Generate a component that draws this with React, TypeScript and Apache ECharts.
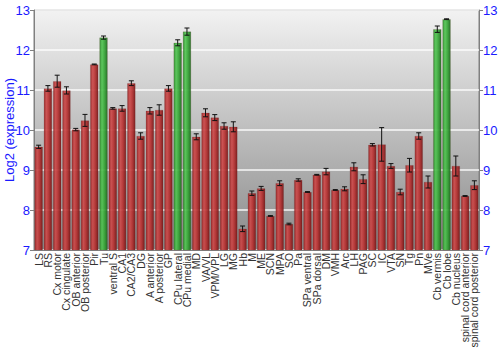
import React, { useEffect, useRef } from "react";
import * as echarts from "echarts";

const categories: string[] = [
  "LS", "RS", "Cx motor", "Cx cingulate", "OB anterior", "OB posterior", "Pir", "Tu",
  "ventral S", "CA1", "CA2/CA3", "DG", "A anterior", "A posterior", "GP", "CPu lateral",
  "CPu medial", "MD", "VA/VL", "VPM/VPL", "LG", "MG", "Hb", "M", "ME", "SCN", "MPA", "SO",
  "Pa", "SPa ventral", "SPa dorsal", "DM", "VMH", "Arc", "LH", "PAG", "SC", "IC", "VTA",
  "SN", "Tg", "Pn", "MVe", "Cb vermis", "Cb lobe", "Cb nucleus", "spinal cord anterior",
  "spinal cord posterior",
];

const values: number[] = [
  9.58, 11.04, 11.22, 10.99, 10.01, 10.24, 11.64, 12.31,
  10.54, 10.54, 11.17, 9.85, 10.48, 10.5, 11.04, 12.18,
  12.46, 9.83, 10.43, 10.31, 10.1, 10.08, 7.53, 8.42, 8.54, 7.85, 8.67, 7.65,
  8.75, 8.45, 8.88, 8.96, 8.5, 8.53, 9.08, 8.77, 9.63, 9.64, 9.1,
  8.45, 9.12, 9.85, 8.7, 12.52, 12.77, 9.1, 8.35,
  8.62,
];

const errors: number[] = [
  0.04, 0.07, 0.15, 0.09, 0.03, 0.15, 0.01, 0.04,
  0.02, 0.07, 0.06, 0.08, 0.08, 0.13, 0.07, 0.075,
  0.09, 0.075, 0.1, 0.075, 0.08, 0.125, 0.07, 0.055, 0.05, 0.01, 0.06, 0.02,
  0.03, 0.01, 0.01, 0.08, 0.01, 0.05, 0.1, 0.11, 0.03, 0.42, 0.06,
  0.07, 0.17, 0.08, 0.15, 0.08, 0.01, 0.25, 0.01,
  0.11,
];

const highlighted: string[] = ["Tu", "CPu lateral", "CPu medial", "Cb vermis", "Cb lobe"];

const yTicks = { min: 7, max: 13, interval: 1 };

const redGrad = () =>
  new echarts.graphic.LinearGradient(0, 0, 1, 0, [
    { offset: 0, color: "#9a2424" },
    { offset: 0.3, color: "#cc4a4a" },
    { offset: 0.6, color: "#b83232" },
    { offset: 1, color: "#7a1616" },
  ]);
const greenGrad = () =>
  new echarts.graphic.LinearGradient(0, 0, 1, 0, [
    { offset: 0, color: "#2a8e2a" },
    { offset: 0.3, color: "#52c452" },
    { offset: 0.6, color: "#38a838" },
    { offset: 1, color: "#1c6c1c" },
  ]);

export default function App() {
  const ref = useRef<HTMLDivElement>(null);
  useEffect(() => {
    if (!ref.current) return;
    const chart = echarts.init(ref.current, undefined, { renderer: "svg" });
    const blue = "#1a1aff";
    const font = "Liberation Sans, Arial, sans-serif";
    const barData = values.map((v, i) => ({
      value: v,
      itemStyle: {
        color: highlighted.includes(categories[i]) ? greenGrad() : redGrad(),
        opacity: 0.92,
        borderColor: "rgba(90,20,20,0.35)",
        borderWidth: 0.5,
      },
    }));
    const errData = values.map((v, i) => [i, v - errors[i], v + errors[i]]);
    const yAxisBase = {
      type: "value" as const,
      min: yTicks.min,
      max: yTicks.max,
      interval: yTicks.interval,
      axisLine: { show: true, lineStyle: { color: "#808080" } },
      axisTick: { show: true, length: 4, lineStyle: { color: "#808080" } },
      axisLabel: { color: blue, fontSize: 13, fontFamily: font, margin: 4 },
    };
    chart.setOption({
      animation: false,
      grid: {
        left: 34,
        right: 21,
        top: 10,
        bottom: 100,
        containLabel: false,
        outerBoundsMode: "none",
        show: true,
        borderColor: "#808080",
        borderWidth: 1,
        backgroundColor: new echarts.graphic.LinearGradient(0, 0, 0, 1, [
          { offset: 0, color: "#f2f2f2" },
          { offset: 1, color: "#8a8a8a" },
        ]),
      },
      xAxis: {
        type: "category",
        data: categories,
        axisLine: { show: true, lineStyle: { color: "#808080" } },
        axisTick: { show: false },
        axisLabel: {
          interval: 0,
          rotate: 90,
          fontSize: 10.5,
          color: "#333",
          fontFamily: font,
          margin: 3,
        },
      },
      yAxis: [
        {
          ...yAxisBase,
          position: "left",
          name: "Log2 (expression)",
          nameLocation: "middle",
          nameGap: 18,
          nameMoveOverlap: false,
          nameTextStyle: { color: blue, fontSize: 13, fontFamily: font },
          splitLine: { show: true, lineStyle: { color: "#ffffff", width: 1.5, opacity: 0.9 } },
        },
        {
          ...yAxisBase,
          position: "right",
          splitLine: { show: false },
        },
      ],
      series: [
        {
          type: "bar",
          data: barData,
          barCategoryGap: "12%",
          yAxisIndex: 0,
        },
        {
          type: "custom",
          yAxisIndex: 0,
          data: errData,
          z: 5,
          renderItem: (params: any, api: any) => {
            const i = api.value(0);
            const lo = api.coord([i, api.value(1)]);
            const hi = api.coord([i, api.value(2)]);
            const x = lo[0];
            const w = 2.5;
            const style = { stroke: "#111", lineWidth: 1 };
            return {
              type: "group",
              children: [
                { type: "line", shape: { x1: x, y1: lo[1], x2: x, y2: hi[1] }, style },
                { type: "line", shape: { x1: x - w, y1: lo[1], x2: x + w, y2: lo[1] }, style },
                { type: "line", shape: { x1: x - w, y1: hi[1], x2: x + w, y2: hi[1] }, style },
              ],
            };
          },
        },
      ],
    });
    return () => chart.dispose();
  }, []);
  return (
    <div
      ref={ref}
      style={{ width: 500, height: 350, position: "absolute", left: 0, top: 0 }}
    />
  );
}
